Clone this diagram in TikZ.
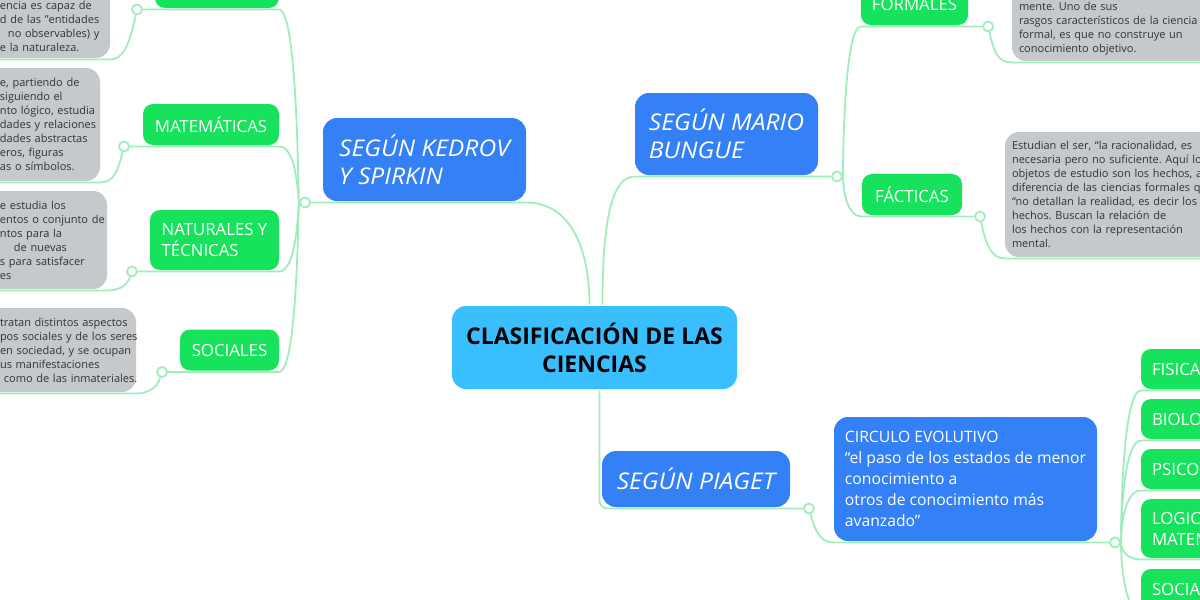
\documentclass[tikz,border=0pt]{standalone}
\usepackage{fontspec}
\setmainfont{Open Sans}
\newfontfamily\branchfont[FakeStretch=1.07]{Open Sans}
\usetikzlibrary{backgrounds}
\definecolor{rootblue}{RGB}{57,190,255}
\definecolor{branchblue}{RGB}{52,128,246}
\definecolor{topicgreen}{RGB}{22,226,92}
\definecolor{notegray}{RGB}{198,201,204}
\definecolor{notetext}{RGB}{50,50,50}
\definecolor{linkgreen}{RGB}{160,237,188}
\frenchspacing
\setlength{\parindent}{0pt}
% notes that run out of the left edge
\newcommand{\cutedge}[1]{\parindent=0pt\leftskip=#1\relax}
\newcommand{\cutline}[2][0pt]{\makebox[0pt][l]{\kern#1\relax#2}}
\tikzset{
    edgeline/.style={draw=linkgreen,line width=1.8pt},
    joint/.style={circle,draw=linkgreen,line width=1.8pt,fill=white,minimum size=10pt,inner sep=0pt},
    mapbox/.style={rounded corners=14pt,outer ysep=1.5pt,outer xsep=0pt},
    rootbox/.style={mapbox,fill=rootblue,text=black,align=center,font=\bfseries\fontsize{23}{28}\selectfont},
    branchbox/.style={mapbox,fill=branchblue,text=white,align=left,inner xsep=12pt,font=\branchfont\itshape\fontsize{23}{28}\selectfont},
    topicbox/.style={mapbox,rounded corners=10pt,fill=topicgreen,text=white,align=left,inner xsep=11pt,font=\fontsize{16.8}{21}\selectfont},
    notebox/.style={mapbox,fill=notegray,text=notetext,align=left,inner xsep=7pt,inner ysep=8pt,text width=150pt,font=\fontsize{11}{14}\selectfont}
}
\begin{document}
\begin{tikzpicture}[x=1pt,y=-1pt]
    \useasboundingbox (0,0) rectangle (1200,600);
    % Root
    \node[rootbox,minimum width=285pt,minimum height=83pt] (root) at (594.5,347.5) {CLASIFICACIÓN DE LAS\\CIENCIAS};
    % Branches
    \node[branchbox,minimum width=203pt,minimum height=83pt] (kedrov) at (424.5,159.5) {SEGÚN KEDROV\\Y SPIRKIN};
    \node[branchbox,minimum width=183pt,minimum height=82pt] (bungue) at (726.5,134) {SEGÚN MARIO\\BUNGUE};
    \node[branchbox,minimum width=188pt,minimum height=56pt] (piaget) at (696,479) {SEGÚN PIAGET};
    \node[branchbox,font=\fontsize{15.7}{21}\selectfont,inner xsep=9pt,minimum width=263pt,minimum height=124pt] (circulo) at (965.5,479)
        {CIRCULO EVOLUTIVO\\“el paso de los estados de menor\\conocimiento a\\otros de conocimiento más\\avanzado”};
    % Kedrov topics
    \node[topicbox,minimum width=124pt,minimum height=41pt] (kedtop) at (217,-12.5) {};
    \node[topicbox,minimum width=136pt,minimum height=41pt] (mat) at (211,124.5) {MATEMÁTICAS};
    \node[topicbox,minimum width=129pt,minimum height=60pt] (nat) at (214.5,240) {NATURALES Y\\TÉCNICAS};
    \node[topicbox,minimum width=99pt,minimum height=41pt] (soc) at (229.5,350) {SOCIALES};
    % Bungue topics
    \node[topicbox,minimum width=105pt,minimum height=41pt] (form) at (914.5,4.5) {FORMALES};
    \node[topicbox,minimum width=100pt,minimum height=41pt] (fact) at (912,194.5) {FÁCTICAS};
    % Piaget topics
    \node[topicbox,anchor=north west,text width=110pt,minimum height=40pt] (fis) at (1141,347.5) {FISICA};
    \node[topicbox,anchor=north west,text width=110pt,minimum height=40pt] (bio) at (1141,397.5) {BIOLO};
    \node[topicbox,anchor=north west,text width=110pt,minimum height=40pt] (psi) at (1141,447.5) {PSICO};
    \node[topicbox,anchor=north west,text width=110pt,minimum height=59pt] (logmat) at (1141,497.5) {LOGIC\\MATEM};
    \node[topicbox,anchor=north west,text width=110pt,minimum height=41pt] (socr) at (1141,567.5) {SOCIA};
    % Notes
    \node[notebox,anchor=south east,inner ysep=6pt] (kednote) at (110,59.5)
        {\cutedge{47pt}\mbox{}\\\mbox{}\\\cutline{encia es capaz de}\\\cutline{d de las "entidades}\\\cutline[8pt]{no observables) y}\\\cutline{e la naturaleza.}\par};
    \node[notebox,anchor=north east,minimum height=113pt] (matnote) at (100,66.5)
        {\cutedge{57pt}\cutline{e, partiendo de}\\\cutline{siguiendo el}\\\cutline{nto lógico, estudia}\\\cutline{dades y relaciones}\\\cutline{dades abstractas}\\\cutline{eros, figuras}\\\cutline{as o símbolos.}\par};
    \node[notebox,anchor=north east,minimum height=98pt] (natnote) at (107,189.5)
        {\cutedge{50pt}\cutline{e estudia los}\\\cutline{entos o conjunto de}\\\cutline{ntos para la}\\\cutline[14pt]{de nuevas}\\\cutline{s para satisfacer}\\\cutline{es}\par};
    \node[notebox,anchor=north east,minimum height=84pt] (socnote) at (136,306.5)
        {\cutedge{21pt}\cutline{tratan distintos aspectos}\\\cutline{pos sociales y de los seres}\\\cutline{en sociedad, y se ocupan}\\\cutline{us manifestaciones}\\\cutline[4pt]{como de las inmateriales.}\par};
    \node[notebox,anchor=south west,text width=260pt,inner ysep=6pt] (formnote) at (1012,62.5)
        {\mbox{}\\\mbox{}\\mente. Uno de sus\\rasgos característicos de la ciencia\\formal, es que no construye un\\conocimiento objetivo.};
    \node[notebox,anchor=north west,text width=260pt,minimum height=125pt] (factnote) at (1005,130.5)
        {Estudian el ser, “la racionalidad, es\\necesaria pero no suficiente. Aquí los\\objetos de estudio son los hechos, a\\diferencia de las ciencias formales que\\“no detallan la realidad, es decir los\\hechos. Buscan la relación de\\los hechos con la representación\\mental.};
    % Joints
    \node[joint] (kedrovdot) at ([xshift=-18pt]kedrov.south west) {};
    \node[joint] (bunguedot) at ([xshift=19pt]bungue.south east) {};
    \node[joint] (piagetdot) at ([xshift=19pt]piaget.south east) {};
    \node[joint] (circulodot) at ([xshift=18pt]circulo.south east) {};
    \node[joint] (kedtopdot) at ([xshift=-18pt]kedtop.south west) {};
    \node[joint] (matdot) at ([xshift=-19pt]mat.south west) {};
    \node[joint] (natdot) at ([xshift=-18pt]nat.south west) {};
    \node[joint] (socdot) at ([xshift=-18pt]soc.south west) {};
    \node[joint] (formdot) at ([xshift=20pt]form.south east) {};
    \node[joint] (factdot) at ([xshift=18pt]fact.south east) {};
    \coordinate (kspine) at ([xshift=-7pt]kedrovdot);
    \coordinate (bspine) at ([xshift=6pt]bunguedot);
    \coordinate (cspine) at ([xshift=6pt]circulodot);
    \begin{scope}[on background layer]
        % Root to branches
        \draw[edgeline] (kedrovdot) -- (kedrov.south east) .. controls +(45,0) and +(0,-55) .. ([xshift=-5pt]root.north);
        \draw[edgeline] ([xshift=8pt]root.north) .. controls +(0,-90) and +(-22,0) .. (bungue.south west) -- (bunguedot);
        \draw[edgeline,rounded corners=8pt] ([xshift=5pt]root.south) |- (piagetdot);
        \draw[edgeline] (piagetdot) .. controls +(6,22) and +(-14,0) .. (circulo.south west) -- (circulodot);
        % Branches to topics
        \foreach \kid/\kdot in {kedtop/kedtopdot,mat/matdot,nat/natdot,soc/socdot}
            \draw[edgeline] (kedrovdot) .. controls (kspine) and (kspine |- \kid.south east) .. (\kid.south east) -- (\kdot);
        \foreach \kid/\kdot in {form/formdot,fact/factdot}
            \draw[edgeline] (bunguedot) .. controls (bspine) and (bspine |- \kid.south west) .. (\kid.south west) -- (\kdot);
        \foreach \kid in {fis,bio,psi,logmat,socr}
            \draw[edgeline] (circulodot) .. controls (cspine) and (cspine |- \kid.south west) .. (\kid.south west) -- (\kid.south east);
        % Topics to notes
        \draw[edgeline] (kedtopdot) .. controls +(-8,38) and +(12,0) .. (kednote.south east) -- (kednote.south west);
        \draw[edgeline] (matdot) .. controls +(-6,24) and +(14,0) .. (matnote.south east) -- (matnote.south west);
        \draw[edgeline] (natdot) .. controls +(-5,14) and +(12,0) .. (natnote.south east) -- (natnote.south west);
        \draw[edgeline] (socdot) .. controls +(-5,16) and +(12,0) .. (socnote.south east) -- (socnote.south west);
        \draw[edgeline] (formdot) .. controls +(6,26) and +(-14,0) .. (formnote.south west) -- (formnote.south east);
        \draw[edgeline] (factdot) .. controls +(6,28) and +(-14,0) .. (factnote.south west) -- (factnote.south east);
    \end{scope}
\end{tikzpicture}
\end{document}
